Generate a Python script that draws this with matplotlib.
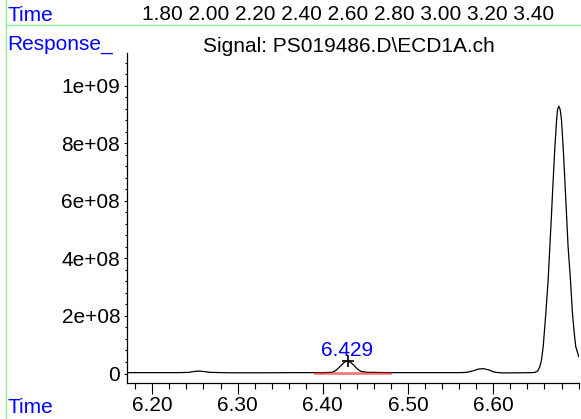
import matplotlib
matplotlib.use("Agg")
import matplotlib.pyplot as plt
from matplotlib.lines import Line2D
from matplotlib.ticker import MultipleLocator, FixedLocator, FixedFormatter

plt.rcParams['font.family'] = ['Liberation Sans', 'DejaVu Sans']

# ---- data ----
time_min = [6.171, 6.200, 6.230, 6.243, 6.249, 6.254, 6.260, 6.268, 6.290, 6.330,
            6.370, 6.400, 6.411, 6.4149, 6.4187, 6.4227, 6.4255, 6.429, 6.4325, 6.4365,
            6.4405, 6.4445, 6.451, 6.480, 6.530, 6.560, 6.569, 6.576, 6.582, 6.588,
            6.594, 6.600, 6.604, 6.612, 6.630, 6.645, 6.6488, 6.652, 6.6546, 6.6565,
            6.6585, 6.6616, 6.6643, 6.6663, 6.6683, 6.6702, 6.6722, 6.6742, 6.6753, 6.6768,
            6.6784, 6.6800, 6.6819, 6.6839, 6.6858, 6.6877, 6.6905, 6.6928, 6.6948, 6.6967,
            6.7002]
response = [3.0e6, 3.0e6, 3.0e6, 4.0e6, 7.0e6, 8.5e6, 7.0e6, 4.0e6, 2.5e6, 2.5e6,
            3.0e6, 3.0e6, 4.2e6, 9.7e6, 2.0e7, 3.2e7, 4.0e7, 4.3e7, 3.9e7, 2.85e7,
            1.56e7, 7.6e6, 4.2e6, 3.0e6, 3.0e6, 3.0e6, 4.0e6, 9.0e6, 1.5e7, 1.7e7,
            1.3e7, 6.0e6, 3.5e6, 2.0e6, 2.5e6, 3.0e6, 4.0e6, 8.7e6, 2.36e7, 4.7e7,
            9.3e7, 2.10e8, 3.25e8, 4.40e8, 5.57e8, 6.72e8, 7.87e8, 8.80e8, 9.17e8, 9.29e8,
            9.17e8, 8.80e8, 7.87e8, 6.72e8, 5.57e8, 4.40e8, 3.25e8, 2.10e8, 1.44e8, 9.3e7,
            5.9e7]

peak_rt = 6.429
peak_height = 4.3e7
peak_label = "6.429"
integration_start = [6.391, 6.479]
integration_level = [3.0e6, 3.0e6]

x_ticks = [6.20, 6.30, 6.40, 6.50, 6.60]
x_tick_labels = ["6.20", "6.30", "6.40", "6.50", "6.60"]
y_ticks = [0, 2e8, 4e8, 6e8, 8e8, 1e9]
y_tick_labels = ["0", "2e+08", "4e+08", "6e+08", "8e+08", "1e+09"]
top_time_labels = ["1.80", "2.00", "2.20", "2.40", "2.60", "2.80", "3.00", "3.20", "3.40"]
signal_title = "Signal: PS019486.D\\ECD1A.ch"

W, H = 581, 419
FS = 15
BLUE = '#0000ff'
GREEN = '#90ee90'

fig = plt.figure(figsize=(W / 100, H / 100), dpi=100)
ax = fig.add_axes([126.5 / W, 36 / H, 452.5 / W, 330 / H])

ax.plot(time_min, response, color='black', lw=0.9, zorder=3)
ax.plot(integration_start, integration_level, color='red', alpha=0.5, lw=2.0, zorder=4)
ax.plot([peak_rt], [peak_height], marker='+', color='black', markersize=8, mew=1.2, zorder=5)
ax.annotate(peak_label, xy=(peak_rt, peak_height), xytext=(0, 3.8), textcoords='offset points',
            ha='center', va='baseline', color=BLUE, fontsize=FS)

ax.set_xlim(6.1697, 6.7005)
ax.set_ylim(-3.3e7, 1.1136e9)

for s in ('top', 'right'):
    ax.spines[s].set_visible(False)
for s in ('left', 'bottom'):
    ax.spines[s].set_linewidth(0.9)

ax.xaxis.set_major_locator(FixedLocator(x_ticks))
ax.xaxis.set_major_formatter(FixedFormatter(x_tick_labels))
ax.xaxis.set_minor_locator(MultipleLocator(0.02))
ax.yaxis.set_major_locator(FixedLocator(y_ticks))
ax.yaxis.set_major_formatter(FixedFormatter(y_tick_labels))
ax.yaxis.set_minor_locator(MultipleLocator(4e7))

ax.tick_params(axis='x', which='major', length=7.7, width=0.8, pad=1.5, labelsize=FS, direction='out')
ax.tick_params(axis='x', which='minor', length=4.0, width=0.8, direction='out')
ax.tick_params(axis='y', which='major', length=2.5, width=0.8, pad=2.0, labelsize=FS, direction='out')
ax.tick_params(axis='y', which='minor', length=1.5, width=0.8, direction='out')

# frame lines (green)
fig.add_artist(Line2D([6 / W, 6 / W], [0, 1], transform=fig.transFigure, color=GREEN, lw=1.0))
fig.add_artist(Line2D([6 / W, 1], [1 - 25.5 / H, 1 - 25.5 / H], transform=fig.transFigure,
                      color=GREEN, lw=1.0))

fig.text(7 / W, 1 - 20.7 / H, "Time", color=BLUE, fontsize=FS, va='baseline', ha='left')
fig.text(141.5 / W, 1 - 19.5 / H, " ".join(top_time_labels), color='black', fontsize=FS,
         va='baseline', ha='left')
fig.text(7 / W, 1 - 49.5 / H, "Response_", color=BLUE, fontsize=FS, va='baseline', ha='left')
fig.text(349 / W, 1 - 51.5 / H, signal_title, color='black', fontsize=FS, va='baseline', ha='center')
fig.text(7 / W, 2 / H, "Time", color=BLUE, fontsize=FS, va='bottom', ha='left')

fig.savefig("out.png", dpi=100)
